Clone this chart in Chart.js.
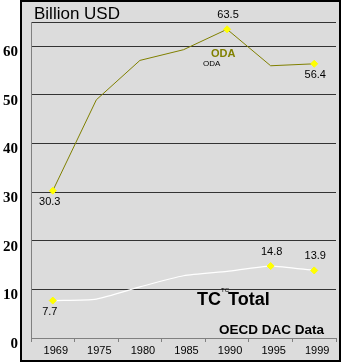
<!DOCTYPE html>
<html>
<head>
<meta charset="utf-8">
<script src="https://cdn.jsdelivr.net/npm/chart.js@4"></script>
<style>
html, body { margin: 0; padding: 0; background: #fff; }
#wrap { width: 341px; height: 362px; }
</style>
</head>
<body>
<div id="wrap"><canvas id="chart" width="341" height="362"></canvas></div>
<script>
// Chart data
const years = ['1969', '1975', '1980', '1985', '1990', '1995', '1999'];
const odaValues = [30.3, 49.0, 57.1, 59.3, 63.5, 56.0, 56.4];
const tcValues = [7.7, 8.0, 10.5, 12.8, 13.7, 14.8, 13.9];
const yTicks = [0, 10, 20, 30, 40, 50, 60];
const yMax = 65;

// which points get a yellow marker + value label
const odaMarked = [0, 4, 6];
const tcMarked = [0, 5, 6];

const narrowFont = 'Liberation Sans Narrow, Arial Narrow, Liberation Sans, Arial, sans-serif';
const sansFont = 'Liberation Sans, Arial, sans-serif';

function markerRadius(marked) {
    return ctx => marked.includes(ctx.dataIndex) ? 3.5 : 0;
}

// gray panel with black frame behind the chart
const panelPlugin = {
    id: 'panel',
    beforeDraw(chart) {
        const ctx = chart.ctx;
        ctx.save();
        ctx.fillStyle = '#dcdcdc';
        ctx.fillRect(20, 0, 321, 362);
        ctx.strokeStyle = '#000';
        ctx.lineWidth = 2;
        ctx.strokeRect(21, 1, 319, 360);
        ctx.restore();
    }
};

// value labels and the free text on the chart
const textPlugin = {
    id: 'texts',
    afterDraw(chart) {
        const ctx = chart.ctx;
        ctx.save();
        ctx.fillStyle = '#000';
        ctx.textAlign = 'center';
        ctx.textBaseline = 'middle';
        ctx.font = '11px ' + narrowFont;

        const labelSets = [
            { ds: 0, marked: odaMarked, values: odaValues, place: ['below', 'above', 'below'] },
            { ds: 1, marked: tcMarked, values: tcValues, place: ['below', 'above', 'above'] }
        ];
        labelSets.forEach(set => {
            const meta = chart.getDatasetMeta(set.ds);
            set.marked.forEach((idx, k) => {
                const pt = meta.data[idx];
                const dy = set.place[k] === 'above' ? -14 : 11;
                const dx = idx === 0 ? -3 : 1;
                ctx.fillText(set.values[idx].toFixed(1), pt.x + dx, pt.y + dy);
            });
        });

        ctx.textBaseline = 'alphabetic';
        ctx.textAlign = 'left';

        ctx.font = '17px ' + sansFont;
        ctx.fillText('Billion USD', 34, 19);

        ctx.fillStyle = '#808000';
        ctx.font = 'bold 11px ' + sansFont;
        ctx.fillText('ODA', 211, 57);

        ctx.fillStyle = '#000';
        ctx.font = '8px ' + sansFont;
        ctx.fillText('ODA', 203, 66);

        ctx.font = 'bold 18px ' + sansFont;
        ctx.fillText('TC', 197, 305);
        ctx.font = '6px ' + sansFont;
        ctx.fillText('TC', 221, 292);
        ctx.font = 'bold 18px ' + sansFont;
        ctx.fillText('Total', 228, 305);

        ctx.font = 'bold 13.5px ' + sansFont;
        ctx.fillText('OECD DAC Data', 219, 334);
        ctx.restore();
    }
};

const chart = new Chart(document.getElementById('chart').getContext('2d'), {
    type: 'line',
    data: {
        labels: years,
        datasets: [
            {
                label: 'ODA',
                data: odaValues,
                borderColor: '#808000',
                borderWidth: 1,
                tension: 0,
                pointStyle: 'rectRot',
                pointRadius: markerRadius(odaMarked),
                pointBackgroundColor: '#ffff00',
                pointBorderColor: '#ffff00',
                pointBorderWidth: 1
            },
            {
                label: 'TC Total',
                data: tcValues,
                borderColor: '#ffffff',
                borderWidth: 1.2,
                tension: 0.2,
                pointStyle: 'rectRot',
                pointRadius: markerRadius(tcMarked),
                pointBackgroundColor: '#ffff00',
                pointBorderColor: '#ffff00',
                pointBorderWidth: 1
            }
        ]
    },
    options: {
        responsive: false,
        animation: false,
        layout: { padding: { top: 20, right: 2, left: 0, bottom: 0 } },
        plugins: {
            legend: { display: false },
            tooltip: { enabled: false }
        },
        scales: {
            x: {
                offset: true,
                grid: {
                    offset: true,
                    drawOnChartArea: false,
                    drawTicks: true,
                    tickLength: 4,
                    color: '#808080'
                },
                border: { color: '#808080' },
                ticks: {
                    color: '#000',
                    font: { family: narrowFont, size: 11 },
                    padding: 2,
                    labelOffset: 3,
                    maxRotation: 0
                },
                afterFit: scale => { scale.height = 24; }
            },
            y: {
                min: 0,
                max: yMax,
                afterBuildTicks: scale => {
                    scale.ticks = yTicks.concat([yMax]).map(v => ({ value: v }));
                },
                grid: {
                    drawTicks: false,
                    lineWidth: 1,
                    color: ctx => (ctx.tick && ctx.tick.value === 0) ? 'rgba(0,0,0,0)' : '#333333'
                },
                border: { color: '#808080' },
                ticks: {
                    color: '#000',
                    font: { family: 'Liberation Serif, Times New Roman, serif', size: 15, weight: 'bold' },
                    padding: 13,
                    labelOffset: 6,
                    callback: value => value === yMax ? '' : value
                },
                afterFit: scale => { scale.width = 31; }
            }
        }
    },
    plugins: [panelPlugin, textPlugin]
});
</script>
</body>
</html>
